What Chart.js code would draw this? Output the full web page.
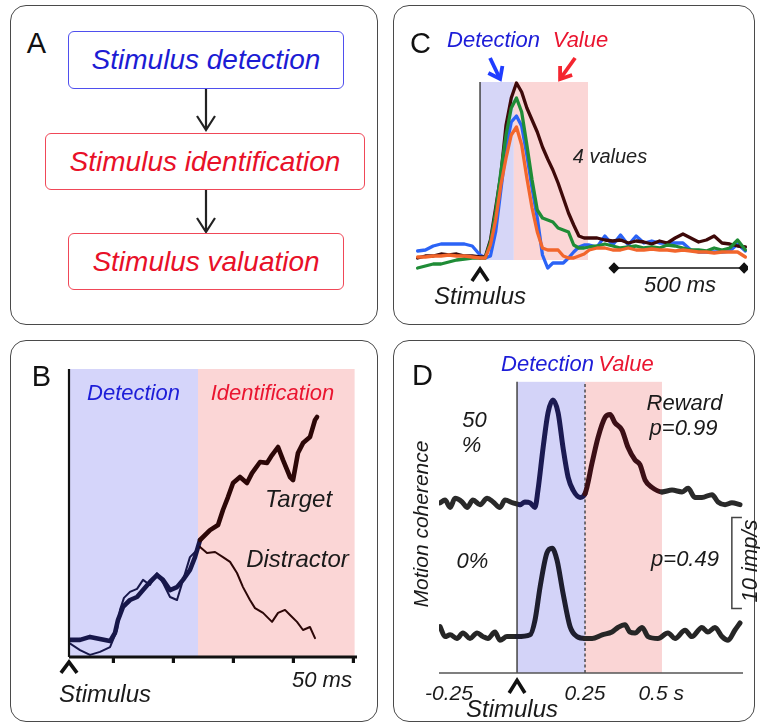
<!DOCTYPE html>
<html><head><meta charset="utf-8">
<script src="https://cdn.jsdelivr.net/npm/chart.js@4"></script>
<style>
html,body{margin:0;padding:0;background:#fff;}
#fig{position:relative;width:760px;height:726px;overflow:hidden;background:#fff;font-family:'Liberation Sans',Arial,sans-serif;}
.panel{position:absolute;border:1.8px solid #4a4a4a;border-radius:16px;box-sizing:border-box;z-index:1;}
canvas{position:absolute;z-index:2;}
.t{position:absolute;transform:translate(-50%,-50%);white-space:nowrap;line-height:1;font-style:italic;color:#1a1a1a;z-index:3;}
.L{position:absolute;transform:translate(-50%,-50%);line-height:1;font-size:29px;color:#111;z-index:3;}
.box{position:absolute;box-sizing:border-box;border-radius:6px;display:flex;align-items:center;justify-content:center;font-style:italic;font-size:28px;line-height:1;z-index:3;background:#fff;}
.rot{transform:translate(-50%,-50%) rotate(-90deg);}
svg{position:absolute;left:0;top:0;z-index:2;}
</style>
</head><body>
<div id="fig">
  <div class="panel" style="left:10px;top:5px;width:368px;height:320px;"></div>
  <div class="panel" style="left:393px;top:5px;width:362px;height:320px;"></div>
  <div class="panel" style="left:10px;top:340px;width:368px;height:382px;"></div>
  <div class="panel" style="left:393px;top:340px;width:362px;height:382px;"></div>

  <!-- Panel A -->
  <div class="L" style="left:36.5px;top:42.5px;">A</div>
  <div class="box" style="left:68px;top:31px;width:276px;height:58px;border:1.7px solid #4f4fee;color:#1c1cd4;">Stimulus detection</div>
  <div class="box" style="left:45px;top:133px;width:320px;height:57px;border:1.7px solid #f04858;color:#e81028;">Stimulus identification</div>
  <div class="box" style="left:68px;top:233px;width:276px;height:57px;border:1.7px solid #f04858;color:#e81028;">Stimulus valuation</div>
  <svg width="760" height="726">
    <g stroke="#222" stroke-width="2.2" fill="none">
      <path d="M206 89 L206 130 M197 116 L206 130 L215 116"/>
      <path d="M206 190 L206 232 M197 218 L206 232 L215 218"/>
    </g>
  </svg>

  <canvas id="cC" width="362" height="320" style="left:393px;top:5px;"></canvas>
  <canvas id="cB" width="368" height="382" style="left:10px;top:340px;"></canvas>
  <canvas id="cD" width="362" height="382" style="left:393px;top:340px;"></canvas>

  <!-- Panel C text -->
  <div class="L" style="left:420.5px;top:42.5px;">C</div>
  <div class="t" style="left:493.5px;top:40px;font-size:22px;color:#1d1dd8;">Detection</div>
  <div class="t" style="left:580.5px;top:40px;font-size:22px;color:#ea1530;">Value</div>
  <div class="t" style="left:610px;top:156px;font-size:20px;color:#222;">4 values</div>
  <div class="t" style="left:480px;top:296px;font-size:24px;">Stimulus</div>
  <div class="t" style="left:680px;top:285px;font-size:22px;">500 ms</div>

  <!-- Panel B text -->
  <div class="L" style="left:41.5px;top:376px;">B</div>
  <div class="t" style="left:133.5px;top:392.5px;font-size:22px;color:#1d1dd8;">Detection</div>
  <div class="t" style="left:272.5px;top:392.5px;font-size:22px;color:#ea1530;">Identification</div>
  <div class="t" style="left:298.5px;top:499px;font-size:24px;">Target</div>
  <div class="t" style="left:297.5px;top:559px;font-size:24px;">Distractor</div>
  <div class="t" style="left:105px;top:693.5px;font-size:24px;">Stimulus</div>
  <div class="t" style="left:322px;top:679.5px;font-size:22px;">50 ms</div>

  <!-- Panel D text -->
  <div class="L" style="left:422.5px;top:374.5px;">D</div>
  <div class="t" style="left:547.5px;top:364px;font-size:22px;color:#1d1dd8;">Detection</div>
  <div class="t" style="left:626px;top:364px;font-size:22px;color:#ea1530;">Value</div>
  <div class="t" style="left:474.5px;top:419.5px;font-size:22px;">50</div>
  <div class="t" style="left:471.5px;top:444.5px;font-size:22px;">%</div>
  <div class="t" style="left:472.5px;top:560.5px;font-size:22px;">0%</div>
  <div class="t" style="left:684.5px;top:402.5px;font-size:22px;">Reward</div>
  <div class="t" style="left:683.5px;top:428px;font-size:22px;">p=0.99</div>
  <div class="t" style="left:685px;top:558.5px;font-size:22px;">p=0.49</div>
  <div class="t rot" style="left:420px;top:524px;font-size:21px;">Motion coherence</div>
  <div class="t rot" style="left:750px;top:561px;font-size:22px;">10 imp/s</div>
  <div class="t" style="left:512px;top:709px;font-size:24px;">Stimulus</div>
</div>

<script>
// ================= DATA =================
// Panel C: time (ms from stimulus) and firing rate for 4 reward values
const tC = [-240,-210,-180,-150,-120,-90,-60,-30,0,20,40,60,80,100,120,140,160,180,200,220,240,260,280,300,320,340,360,380,400,420,450,480,510,540,570,600,630,660,690,720,750,780,810,840,870,900,930,960,990,1020];
const cMaroon = [8.5,9.5,9.5,10.5,10,10.5,9.5,9.5,9,9,17.5,33.5,50,75,88.5,96,91.5,83.5,77.5,71.5,64,58,52.5,46,38.5,31,25,19.5,18.5,18.5,18.5,17.5,17,17.5,16,17,16.5,15.5,17,16,18.5,20.5,18.5,16.5,17.5,19.5,16,15.5,14.5,14];
const cGreen  = [3.5,4.5,5.5,5.5,6.5,7.5,8,8.5,8.5,8.5,16.5,31.5,51.5,70,83.5,88.5,81.5,65,47.5,32.5,28.5,27.5,26.5,23.5,22.5,21.5,15,13.5,13.5,14,14.5,15.5,14.5,13.5,14,14.5,13.5,14,13.5,15,14.5,13.5,12.5,12.5,12,13.5,12.5,13.5,17.5,12.5];
const cOrange = [9,9,9.5,9.5,10,9.5,9.5,9,8.5,8.5,15,27.5,45,58.5,70,74,65,48.5,33.5,21.5,13.5,12.5,12.5,12.5,9.5,8.5,8.5,9.5,10.5,12.5,13.5,13.5,12.5,12.5,13.5,12.5,12.5,13,12.5,12.5,12,12.5,12,11.5,11.5,11,11.5,11.5,11.5,9];
const cBlue   = [12,12.5,14.5,15.5,15.5,15.5,15.5,14.5,10,8.5,9.5,21.5,42.5,63.5,76.5,79.5,74.5,60,43.5,28.5,10,3.5,6,6,6,8.5,11.5,14,15,15,14,19.5,15,20,15,19.5,16,17,16,16,16,16,12.5,11.5,11.5,11.5,11.5,12,15.5,12];
const cScaleBar = [515, 1015];            // 500 ms bar (ms)
const cDetectEnd = 130, cValueEnd = 415;   // ms

// Panel B: accumulated evidence vs time (ms)
const tTarget = [0,9.2,17.5,25.8,34.2,38.3,40.8,45,50.8,56.7,61.7,67.5,73.3,78.3,84.2,90,95,100.8,105,109.2,117.5,124.2,128.3,132.5,136.7,142.5,148.3,152.5,159.2,165,169.2,174.2,178.3,184.2,186.7,190.8,195,200.8,205,206.7];
const vTarget = [5.7,5.7,6.7,6,5.3,8,12.3,16.7,19,20,22.3,25,27.3,25.7,22.3,23.3,25.7,29,33.3,39,42.3,44,49,53.3,58,60,58,61.3,65,64.7,67.3,70,65.7,60,59,68,71.3,73.3,79,80];
const tDistr  = [0,9.2,17.5,25.8,34.2,40,42.5,45.8,50.8,56.7,61.7,67.5,73.3,78.3,84.2,90,92.5,100.8,106.7,109.2,115,121.7,128.3,134.2,140,145,150.8,155,161.7,169.2,174.2,180,184.2,190,195,200.8,205];
const vDistr  = [4.7,2.3,0.7,1.7,3.3,9,15.7,19.7,21.7,22.7,25.7,24,28,24.7,20,19,22.3,33.3,35.7,36.7,34.7,35,33.3,31.7,28,23.3,19,16.3,14.7,11.7,14.7,15.7,14,11.7,9,10,6.3];
const bTicks = [37,87,137,187,237];
const bDetectEnd = 107.5, bIdentEnd = 238;

// Panel D: firing rate (imp/s, stacked display) vs time (s)
const tTop = [-0.283,-0.265,-0.246,-0.228,-0.202,-0.184,-0.162,-0.136,-0.110,-0.088,-0.063,-0.044,-0.015,0.011,0.029,0.048,0.066,0.077,0.096,0.114,0.132,0.151,0.169,0.188,0.206,0.232,0.250,0.276,0.298,0.324,0.342,0.360,0.386,0.408,0.434,0.452,0.471,0.496,0.533,0.570,0.607,0.629,0.654,0.680,0.717,0.739,0.765,0.790,0.820];
const vTop = [18.7,19.0,18.2,19.2,18.8,18.2,19.0,18.5,19.2,18.8,18.2,19.0,18.7,18.5,18.8,18.7,18.2,20.1,24.8,28.6,30.0,28.6,24.8,21.5,20.1,19.3,19.7,23.1,25.9,28.1,28.4,27.5,26.7,24.8,23.4,22.9,21.2,20.4,19.9,20.1,19.9,20.3,19.3,19.3,19.6,18.8,18.5,18.7,18.5];
const tBot = [-0.283,-0.265,-0.246,-0.221,-0.199,-0.173,-0.147,-0.125,-0.107,-0.081,-0.063,-0.037,0,0.048,0.066,0.085,0.110,0.129,0.147,0.169,0.195,0.221,0.250,0.276,0.313,0.349,0.371,0.397,0.415,0.434,0.460,0.482,0.518,0.555,0.581,0.618,0.643,0.680,0.702,0.728,0.754,0.776,0.801,0.820];
const vBot = [5.1,4.0,4.2,3.8,4.4,3.8,4.4,4.0,3.8,4.5,3.6,4.0,4.0,4.2,5.8,9.5,13.2,13.7,12.4,8.8,5.1,4.0,3.8,3.8,4.2,4.5,5.0,5.3,4.5,4.4,5.0,4.0,3.8,4.4,3.8,4.7,4.0,5.0,4.5,5.0,4.0,3.6,4.7,5.5];
const dTickValues = [-0.25, 0.25, 0.5];
const dTickLabels = ['-0.25', '0.25', '0.5'];
const dUnit = 's';
const dDetectEnd = 0.25, dValueEnd = 0.533;
const dScaleBar = [7.1, 17.1]; // 10 imp/s

// ================= RENDERING =================
const pts = (xs, ys) => xs.map((x, i) => ({x, y: ys[i]}));

function drawItems(chart, items) {
  const ctx = chart.ctx, X = chart.scales.x, Y = chart.scales.y;
  ctx.save();
  for (const it of items) {
    if (it.rect) {
      const [x0, x1, y0, y1] = it.rect;
      const a = X.getPixelForValue(x0), b = X.getPixelForValue(x1);
      const c = Y.getPixelForValue(y1), d = Y.getPixelForValue(y0);
      ctx.fillStyle = it.color;
      ctx.fillRect(a, c, b - a, d - c);
    }
    if (it.path) {
      ctx.beginPath();
      it.path.forEach(([u, v], i) => {
        const px = X.getPixelForValue(u), py = Y.getPixelForValue(v);
        i ? ctx.lineTo(px, py) : ctx.moveTo(px, py);
      });
      ctx.strokeStyle = it.color;
      ctx.lineWidth = it.width || 1;
      ctx.setLineDash(it.dash || []);
      ctx.lineCap = it.cap || 'butt';
      ctx.lineJoin = it.join || 'miter';
      ctx.stroke();
      ctx.setLineDash([]);
    }
  }
  ctx.restore();
}
const decor = {
  id: 'decor',
  beforeDatasetsDraw(chart, args, o) { drawItems(chart, o.back || []); },
  afterDatasetsDraw(chart, args, o) { drawItems(chart, o.front || []); }
};
Chart.register(decor);

function baseOpts(xr, yr, pad, dec) {
  return {
    responsive: false, animation: false, events: [],
    layout: { padding: pad },
    scales: {
      x: { type: 'linear', display: false, min: xr[0], max: xr[1] },
      y: { type: 'linear', display: false, min: yr[0], max: yr[1] }
    },
    plugins: { legend: { display: false }, tooltip: { enabled: false }, decor: dec },
    elements: { point: { radius: 0 }, line: { borderCapStyle: 'round', borderJoinStyle: 'round' } }
  };
}

// ---- Panel C ----
const cLine = (ys, color) => ({ data: pts(tC, ys), borderColor: color, borderWidth: 3.3, pointRadius: 0, tension: 0 });
new Chart(document.getElementById('cC'), {
  type: 'line',
  data: { datasets: [
    cLine(cOrange, '#f2662c'),
    cLine(cGreen, '#1f8c36'),
    cLine(cMaroon, '#3e0909'),
    cLine(cBlue, '#2b63f6'),
    { data: cScaleBar.map(x => ({x, y: 3.5})), borderColor: '#111', borderWidth: 1.6,
      pointRadius: 4.5, pointStyle: 'rectRot', pointBackgroundColor: '#111', pointBorderColor: '#111' }
  ]},
  options: baseOpts([-250, 1030], [-12.5, 112.5], {left: 22, top: 45, right: 7, bottom: 25}, {
    back: [
      { rect: [0, cDetectEnd, 7.5, 96.5], color: '#d6d6f7' },
      { rect: [cDetectEnd, cValueEnd, 7.5, 96.5], color: '#fbd6d6' },
      { path: [[0, 7.5], [0, 96.5]], color: '#444', width: 1.5 }
    ],
    front: [
      { path: [[-31, -3], [0, 3], [31, -3]], color: '#111', width: 3.6 },
      { path: [[38.5, 108.5], [77, 98]], color: '#1f3cff', width: 3.8 },
      { path: [[32, 101], [77, 98], [86, 104.5]], color: '#1f3cff', width: 3.8 },
      { path: [[365.4, 108.5], [307.7, 98]], color: '#f42630', width: 3.8 },
      { path: [[307.7, 104.5], [307.7, 98], [354, 100]], color: '#f42630', width: 3.8 }
    ]
  })
});

// ---- Panel B ----
const bColor = c => (c.p0.parsed.x < bDetectEnd ? '#17174a' : '#2c0707');
new Chart(document.getElementById('cB'), {
  type: 'line',
  data: { datasets: [
    { data: pts(tDistr, vDistr), borderWidth: 2, borderColor: '#17174a', segment: { borderColor: bColor }, pointRadius: 0, tension: 0 },
    { data: pts(tTarget, vTarget), borderWidth: 4.6, borderColor: '#17174a', segment: { borderColor: bColor }, pointRadius: 0, tension: 0 }
  ]},
  options: baseOpts([0, 240], [-8, 96], {left: 59, top: 29, right: 21, bottom: 41}, {
    back: [
      { rect: [0, bDetectEnd, 0, 96], color: '#d5d5fa' },
      { rect: [bDetectEnd, bIdentEnd, 0, 96], color: '#fbd6d6' }
    ],
    front: [
      { path: [[0, 0], [0, 96]], color: '#111', width: 2.2 },
      { path: [[0, 0], [240, 0]], color: '#111', width: 2.8 },
      ...bTicks.map(t => ({ path: [[t, 0], [t, -2]], color: '#111', width: 3.2 })),
      { path: [[-6.7, -5.3], [0, -1.7], [6.7, -5.3]], color: '#111', width: 3.6 }
    ]
  })
});

// ---- Panel D ----
const topColor = c => { const x = c.p0.parsed.x; return x < 0 ? '#2a2a2a' : x < dDetectEnd ? '#1b1a52' : x < dValueEnd ? '#3c0f16' : '#2a2a2a'; };
const botColor = c => { const x = c.p0.parsed.x; return (x >= 0 && x < dDetectEnd) ? '#1e1e2e' : '#262626'; };
const dChart = new Chart(document.getElementById('cD'), {
  type: 'line',
  data: { datasets: [
    { data: pts(tTop, vTop), borderWidth: 5, borderColor: '#2a2a2a', segment: { borderColor: topColor }, pointRadius: 0, cubicInterpolationMode: 'monotone' },
    { data: pts(tBot, vBot), borderWidth: 5, borderColor: '#262626', segment: { borderColor: botColor }, pointRadius: 0, cubicInterpolationMode: 'monotone' }
  ]},
  options: baseOpts([-0.287, 0.831], [-2.5, 32.2], {left: 46, top: 40, right: 12, bottom: 26.23}, {
    back: [
      { rect: [0, dDetectEnd, 0, 32], color: '#d3d3f8' },
      { rect: [dDetectEnd, dValueEnd, 0, 32], color: '#fad5d5' },
      { path: [[0, 0], [0, 32]], color: '#444', width: 1.5 },
      { path: [[dDetectEnd, 0], [dDetectEnd, 32]], color: '#333', width: 1.3, dash: [3, 2.5] },
      { path: [[-0.287, 0], [0.831, 0]], color: '#555', width: 1.5 }
    ],
    front: [
      { path: [[-0.029, -2.2], [0, -0.8], [0.029, -2.2]], color: '#111', width: 3.6 },
      { path: [[0.827, dScaleBar[1]], [0.790, dScaleBar[1]], [0.790, dScaleBar[0]], [0.827, dScaleBar[0]]], color: '#444', width: 1.5 }
    ]
  })
});

// D tick labels placed through the chart's x scale
const fig = document.getElementById('fig');
dTickValues.forEach((v, i) => {
  const el = document.createElement('div');
  el.className = 't';
  el.style.fontSize = '21px';
  el.style.left = (393 + dChart.scales.x.getPixelForValue(v)) + 'px';
  el.style.top = '692px';
  el.textContent = dTickLabels[i];
  if (i === dTickValues.length - 1) {
    const u = document.createElement('span');
    u.style.position = 'absolute';
    u.style.left = '100%';
    u.style.whiteSpace = 'pre';
    u.textContent = ' ' + dUnit;
    el.appendChild(u);
  }
  fig.appendChild(el);
});
</script>
</body></html>
